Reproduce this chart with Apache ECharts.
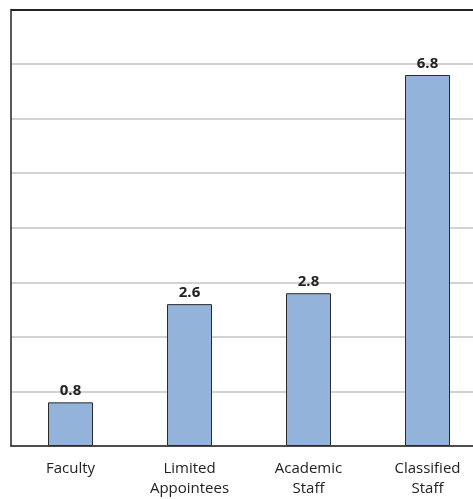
<!DOCTYPE html>
<html>
<head>
<meta charset="utf-8">
<script src="https://cdn.jsdelivr.net/npm/echarts@6/dist/echarts.min.js"></script>
<style>
  html, body { margin: 0; padding: 0; background: #fff; }
  #chart { width: 473px; height: 499px; }
</style>
</head>
<body>
<div id="chart"></div>
<script>
var categories = ["Faculty", "Limited\nAppointees", "Academic\nStaff", "Classified\nStaff"];
var values = [0.8, 2.6, 2.8, 6.8];

// top gridline (value 8) is drawn dark like a frame
var gridColors = ["#d2d2d2", "#d2d2d2", "#d2d2d2", "#d2d2d2", "#d2d2d2", "#d2d2d2", "#d2d2d2", "#d2d2d2", "#222"];

var chart = echarts.init(document.getElementById("chart"));
chart.setOption({
  animation: false,
  grid: {
    left: 11,
    top: 9.5,
    width: 476, // plot runs past the right edge of the picture
    height: 436.5,
    outerBoundsMode: "none",
  },
  xAxis: {
    type: "category",
    data: categories,
    axisTick: { show: false },
    axisLine: { lineStyle: { color: "#222", width: 1.5 } },
    axisLabel: {
      color: "#222",
      fontFamily: "Open Sans",
      fontSize: 15,
      lineHeight: 20,
      verticalAlign: "top",
      margin: 13,
      interval: 0,
    },
  },
  yAxis: {
    type: "value",
    min: 0,
    max: 8,
    interval: 1,
    axisLabel: { show: false },
    axisTick: { show: false },
    axisLine: { show: true, lineStyle: { color: "#222", width: 1.5 } },
    splitLine: {
      lineStyle: { color: gridColors, width: 2 },
    },
  },
  series: [
    {
      type: "bar",
      data: values,
      barWidth: 45,
      itemStyle: {
        color: "#93b3da",
        borderColor: "#2a2a2a",
        borderWidth: 1,
      },
      label: {
        show: true,
        position: "top",
        distance: 4,
        color: "#222",
        fontFamily: "Open Sans",
        fontWeight: "bold",
        fontSize: 15,
        formatter: function (p) {
          return p.value.toFixed(1);
        },
      },
    },
  ],
});
</script>
</body>
</html>
